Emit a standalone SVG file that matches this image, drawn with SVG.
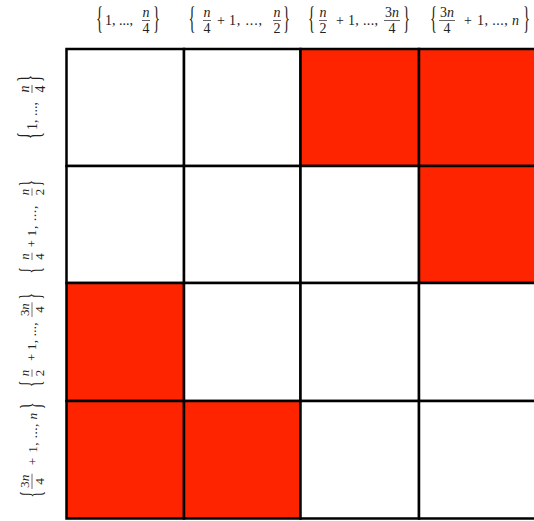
<svg xmlns="http://www.w3.org/2000/svg" width="534" height="521" viewBox="0 0 534 521">
<style>
.cell{stroke:#000;stroke-width:2.5}
.w{fill:#fff}
.r{fill:#ff2400}
text{font-family:"Liberation Serif","DejaVu Serif",serif;font-size:14px;fill:#222}
.i{font-style:italic}
.m{text-anchor:middle}
.br{font-size:21px;text-anchor:middle}
.bar{stroke:#222;stroke-width:0.7}
</style>
<defs>
<g id="L1">
<text class="br" transform="translate(-28.5,0) scale(0.7,1.5)" y="5.4">{</text>
<text x="-23" y="4.8">1, ...,</text>
<text class="i m" x="18" y="-3.5">n</text><line class="bar" x1="14" y1="0" x2="22" y2="0"/><text class="m" x="18" y="12.5">4</text>
<text class="br" transform="translate(28.5,0) scale(0.7,1.5)" y="5.4">}</text>
</g>
<g id="L2">
<text class="br" transform="translate(-47,0) scale(0.7,1.5)" y="5.4">{</text>
<text class="i m" x="-32" y="-3.5">n</text><line class="bar" x1="-36" y1="0" x2="-28" y2="0"/><text class="m" x="-32" y="12.5">4</text>
<text class="m" x="-18" y="4.8">+</text>
<text x="-10" y="4.8" textLength="33" lengthAdjust="spacing">1, ...,</text>
<text class="i m" x="38" y="-3.5">n</text><line class="bar" x1="34" y1="0" x2="42" y2="0"/><text class="m" x="38" y="12.5">2</text>
<text class="br" transform="translate(47.5,0) scale(0.7,1.5)" y="5.4">}</text>
</g>
<g id="L3">
<text class="br" transform="translate(-47.5,0) scale(0.7,1.5)" y="5.4">{</text>
<text class="i m" x="-36" y="-3.5">n</text><line class="bar" x1="-40" y1="0" x2="-32" y2="0"/><text class="m" x="-36" y="12.5">2</text>
<text class="m" x="-19" y="4.8">+</text>
<text x="-11" y="4.8" textLength="30" lengthAdjust="spacing">1, ...,</text>
<text class="m" x="33" y="-3.5">3<tspan class="i">n</tspan></text><line class="bar" x1="25" y1="0" x2="41" y2="0"/><text class="m" x="33" y="12.5">4</text>
<text class="br" transform="translate(47.5,0) scale(0.7,1.5)" y="5.4">}</text>
</g>
<g id="L4">
<text class="br" transform="translate(-46.5,0) scale(0.7,1.5)" y="5.4">{</text>
<text class="m" x="-33" y="-3.5">3<tspan class="i">n</tspan></text><line class="bar" x1="-41" y1="0" x2="-25" y2="0"/><text class="m" x="-33" y="12.5">4</text>
<text class="m" x="-12" y="4.8">+</text>
<text x="-3" y="4.8" textLength="42" lengthAdjust="spacing">1, ..., <tspan class="i">n</tspan></text>
<text class="br" transform="translate(46.5,0) scale(0.7,1.5)" y="5.4">}</text>
</g>
</defs>
<g id="cells">
<g id="c11"><rect class="cell w" x="66.5" y="49" width="117.5" height="117"/></g>
<g id="c12"><rect class="cell w" x="184" y="49" width="116.5" height="117"/></g>
<g id="c13"><rect class="cell r" x="300.5" y="49" width="118.5" height="117"/></g>
<g id="c14"><rect class="cell r" x="419" y="49" width="118" height="117"/></g>
<g id="c21"><rect class="cell w" x="66.5" y="166" width="117.5" height="117"/></g>
<g id="c22"><rect class="cell w" x="184" y="166" width="116.5" height="117"/></g>
<g id="c23"><rect class="cell w" x="300.5" y="166" width="118.5" height="117"/></g>
<g id="c24"><rect class="cell r" x="419" y="166" width="118" height="117"/></g>
<g id="c31"><rect class="cell r" x="66.5" y="283" width="117.5" height="118"/></g>
<g id="c32"><rect class="cell w" x="184" y="283" width="116.5" height="118"/></g>
<g id="c33"><rect class="cell w" x="300.5" y="283" width="118.5" height="118"/></g>
<g id="c34"><rect class="cell w" x="419" y="283" width="118" height="118"/></g>
<g id="c41"><rect class="cell r" x="66.5" y="401" width="117.5" height="117.5"/></g>
<g id="c42"><rect class="cell r" x="184" y="401" width="116.5" height="117.5"/></g>
<g id="c43"><rect class="cell w" x="300.5" y="401" width="118.5" height="117.5"/></g>
<g id="c44"><rect class="cell w" x="419" y="401" width="118" height="117.5"/></g>
</g>
<g id="connectors"></g>
<g id="col-labels">
<use href="#L1" transform="translate(128,20.5)"/>
<use href="#L2" transform="translate(239,20.5)"/>
<use href="#L3" transform="translate(359,20.5)"/>
<use href="#L4" transform="translate(480,20.5)"/>
</g>
<g id="row-labels">
<use href="#L1" transform="translate(32,107) rotate(-90)"/>
<use href="#L2" transform="translate(32,227) rotate(-90) scale(0.92)"/>
<use href="#L3" transform="translate(32,340) rotate(-90) scale(0.92)"/>
<use href="#L4" transform="translate(32,450) rotate(-90) scale(0.95)"/>
</g>
</svg>
